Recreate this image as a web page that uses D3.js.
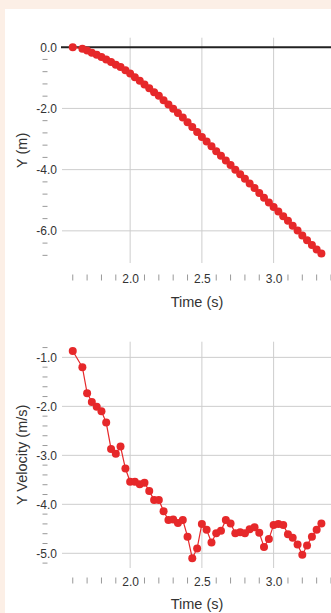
<!DOCTYPE html>
<html><head><meta charset="utf-8">
<script src="https://cdn.jsdelivr.net/npm/d3@7"></script>
<style>
html,body{margin:0;padding:0;background:#fcefe6;overflow:hidden;}
svg{display:block;}
text{font-family:"Liberation Sans",Arial,Helvetica,sans-serif;fill:#333;}
</style></head><body>
<script>
// ---- data ----
const times = [1.6,1.667,1.7,1.733,1.767,1.8,1.833,1.867,1.9,1.933,1.967,
  2.0,2.033,2.067,2.1,2.133,2.167,2.2,2.233,2.267,2.3,2.333,2.367,2.4,2.433,2.467,
  2.5,2.533,2.567,2.6,2.633,2.667,2.7,2.733,2.767,2.8,2.833,2.867,2.9,2.933,2.967,
  3.0,3.033,3.067,3.1,3.133,3.167,3.2,3.233,3.267,3.3,3.333];
const positions = [0,-0.05,-0.11,-0.18,-0.25,-0.32,-0.40,-0.48,-0.57,-0.65,-0.75,
  -0.86,-0.98,-1.10,-1.22,-1.34,-1.47,-1.59,-1.73,-1.87,-2.01,-2.15,-2.30,-2.45,-2.61,-2.77,
  -2.93,-3.08,-3.24,-3.40,-3.55,-3.70,-3.85,-4.00,-4.15,-4.30,-4.45,-4.60,-4.76,-4.92,-5.07,
  -5.22,-5.37,-5.52,-5.67,-5.83,-5.99,-6.15,-6.31,-6.46,-6.61,-6.74];
const velocities = [-0.87,-1.20,-1.73,-1.91,-2.01,-2.10,-2.33,-2.87,-2.97,-2.82,-3.27,
  -3.54,-3.54,-3.59,-3.56,-3.73,-3.91,-3.91,-4.14,-4.32,-4.31,-4.38,-4.32,-4.66,-5.10,-4.90,
  -4.40,-4.52,-4.78,-4.59,-4.54,-4.32,-4.39,-4.59,-4.57,-4.59,-4.51,-4.47,-4.58,-4.87,-4.71,
  -4.42,-4.40,-4.42,-4.61,-4.68,-4.82,-5.03,-4.84,-4.66,-4.52,-4.39];
const xMajorTicks = [2.0, 2.5, 3.0];
const xMinorTicks = [1.6,1.7,1.8,1.9,2.1,2.2,2.3,2.4,2.6,2.7,2.8,2.9,3.1,3.2,3.3,3.4];
const posMajorTicks = [-2,-4,-6];
const posMinorTicks = [-0.4,-0.8,-1.2,-1.6,-2.4,-2.8,-3.2,-3.6,-4.4,-4.8,-5.2,-5.6,-6.4,-6.8];
const velMajorTicks = [-1,-2,-3,-4,-5];
const velMinorTicks = [-0.8,-1.2,-1.4,-1.6,-1.8,-2.2,-2.4,-2.6,-2.8,-3.2,-3.4,-3.6,-3.8,-4.2,-4.4,-4.6,-4.8,-5.2];

const W = 331, H = 613;
const RED = "#e6282a", GRID = "#cdcdcd", MINOR = "#999";
const fmt = d => d.toFixed(1); // plain hyphen minus as in the reference
const svg = d3.select("body").append("svg").attr("width", W).attr("height", H);
svg.append("rect").attr("x",5).attr("y",9).attr("width",W-5).attr("height",H-9).attr("fill","#fff");

const x = d3.scaleLinear().domain([1.525, 3.40]).range([62, 331]);

function panel(cfg){
  const {y, values, majors, minors, axisY, xLabelPad, minorY0, minorY1, titleBase, yTitle, zero} = cfg;
  const g = svg.append("g");
  const [top, bottom] = y.range();
  g.selectAll(".hg").data(majors).join("line")
    .attr("x1", 62).attr("x2", W).attr("y1", d=>y(d)).attr("y2", d=>y(d))
    .attr("stroke", GRID).attr("stroke-width", 1);
  g.selectAll(".vg").data(xMajorTicks).join("line")
    .attr("x1", d=>x(d)).attr("x2", d=>x(d)).attr("y1", top).attr("y2", bottom)
    .attr("stroke", GRID).attr("stroke-width", 1);
  if (zero) {
    g.append("line").attr("x1", 61).attr("x2", W).attr("y1", y(0)).attr("y2", y(0))
      .attr("stroke", "#222").attr("stroke-width", 2);
  }
  const yAxis = d3.axisLeft(y).tickValues(zero ? [0].concat(majors) : majors)
    .tickFormat(fmt).tickSize(0).tickPadding(5);
  const ya = g.append("g").attr("transform","translate(62,0)").call(yAxis);
  ya.select(".domain").remove();
  ya.selectAll("text").style("font-size","12px").attr("fill","#2a2a2a")
    .style("font-family",'"Liberation Sans",Arial,sans-serif');
  g.selectAll(".ym").data(minors).join("line")
    .attr("x1", 42.5).attr("x2", 47.5).attr("y1", d=>y(d)).attr("y2", d=>y(d))
    .attr("stroke", MINOR).attr("stroke-width", 1);
  const xAxis = d3.axisBottom(x).tickValues(xMajorTicks).tickFormat(fmt)
    .tickSize(0).tickPadding(xLabelPad);
  const xa = g.append("g").attr("transform",`translate(0,${axisY})`).call(xAxis);
  xa.select(".domain").remove();
  xa.selectAll("text").style("font-size","12px").attr("fill","#2a2a2a")
    .style("font-family",'"Liberation Sans",Arial,sans-serif');
  g.selectAll(".xm").data(xMinorTicks).join("line")
    .attr("x1", d=>x(d)).attr("x2", d=>x(d)).attr("y1", minorY0).attr("y2", minorY1)
    .attr("stroke", MINOR).attr("stroke-width", 1);
  g.append("text").attr("x", 197).attr("y", titleBase).attr("text-anchor","middle")
    .style("font-size","14.5px").text("Time (s)");
  g.append("text").attr("transform",`translate(26.5,${(top+bottom)/2}) rotate(-90)`)
    .attr("text-anchor","middle").style("font-size","14.5px").text(yTitle);
  const pts = times.map((t,i)=>({t, v: values[i]}));
  g.append("path").datum(pts)
    .attr("d", d3.line().x(d=>x(d.t)).y(d=>y(d.v)))
    .attr("fill","none").attr("stroke", RED).attr("stroke-width", 1.2);
  g.selectAll(".pt").data(pts).join("circle")
    .attr("cx", d=>x(d.t)).attr("cy", d=>y(d.v)).attr("r", 4).attr("fill", RED);
}

panel({
  y: d3.scaleLinear().domain([0.31, -7.05]).range([37.7, 263]),
  values: positions, majors: posMajorTicks, minors: posMinorTicks,
  axisY: 263, xLabelPad: 11, minorY0: 274.5, minorY1: 280.5,
  titleBase: 306.5, yTitle: "Y (m)", zero: true
});
panel({
  y: d3.scaleLinear().domain([-0.68, -5.3]).range([341.7, 568]),
  values: velocities, majors: velMajorTicks, minors: velMinorTicks,
  axisY: 568, xLabelPad: 9, minorY0: 577.5, minorY1: 583.5,
  titleBase: 609, yTitle: "Y Velocity (m/s)", zero: false
});
</script>
</body></html>
